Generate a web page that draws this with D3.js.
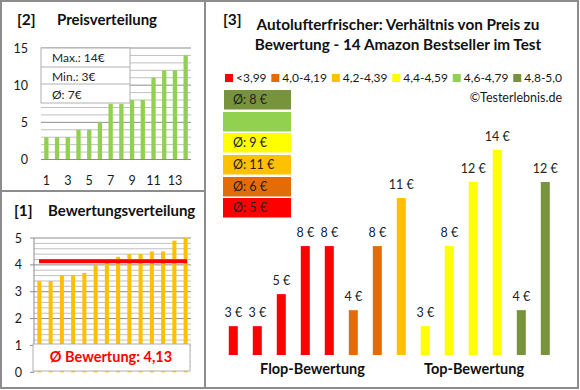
<!DOCTYPE html>
<html><head><meta charset="utf-8">
<script src="https://cdn.jsdelivr.net/npm/d3@7"></script>
<style>
html,body{margin:0;padding:0;background:#fff;}
svg{display:block;font-family:Lato,"Open Sans",sans-serif;}
</style></head>
<body>
<svg id="c" width="580" height="390"></svg>
<script>
// ---------- data ----------
const priceIdx = [1,2,3,4,5,6,7,8,9,10,11,12,13,14];
const prices = [3,3,3,4,4,5,7.5,7.5,8,8,11,12,12,14];
const priceTicks = [0,5,10,15];
const priceXTicks = [1,3,5,7,9,11,13];
const priceBox = ["Max.: 14€","Min.: 3€","Ø: 7€"];

const ratings = [3.4,3.4,3.6,3.6,3.7,4.0,4.1,4.3,4.4,4.4,4.5,4.5,4.9,5.0];
const ratingTicks = [0,1,2,3,4,5];
const ratingAvg = 4.13;
const ratingAvgLabel = "Ø Bewertung: 4,13";

const legendLabels = ["<3,99","4,0-4,19","4,2-4,39","4,4-4,59","4,6-4,79","4,8-5,0"];
const legendColors = ["#FF0000","#E36C09","#FFC000","#FFFF00","#92D050","#77933C"];
const groupAvgLabels = ["Ø: 5 €","Ø: 6 €","Ø: 11 €","Ø: 9 €","","Ø: 8 €"];
const barPrices = [3,3,5,8,8,4,8,11,3,8,12,14,4,12];
const barGroups = [0,0,0,0,0,1,1,2,3,3,3,3,5,5];
const barLabels = ["3 €","3 €","5 €","8 €","8 €","4 €","8 €","11 €","3 €","8 €","12 €","14 €","4 €","12 €"];
const sectionLabels = ["Flop-Bewertung","Top-Bewertung"];

const svg = d3.select("#c");
const txt = "#1a1a1a", gridMinor = "#c0c0c0", gridMajor = "#8c8c8c", frame = "#8c8c8c";

// ---------- frame ----------
svg.append("rect").attr("x",1).attr("y",1).attr("width",577).attr("height",387)
  .attr("fill","none").attr("stroke",frame).attr("stroke-width",2);
svg.append("line").attr("x1",205).attr("x2",205).attr("y1",1).attr("y2",388).attr("stroke",frame).attr("stroke-width",2);
svg.append("line").attr("x1",1).attr("x2",205).attr("y1",191).attr("y2",191).attr("stroke",frame).attr("stroke-width",2);

// ---------- panel 2: Preisverteilung ----------
const p2 = svg.append("g");
p2.append("text").attr("x",17).attr("y",25).attr("font-size",15.5).attr("font-weight","bold").attr("fill","#111").text("[2]");
p2.append("text").attr("x",57).attr("y",25).attr("font-size",15).attr("font-weight","bold").attr("fill","#111").text("Preisverteilung");
const x2 = d3.scaleBand().domain(priceIdx).range([41,191]).paddingInner(0.6).paddingOuter(0.3);
const y2 = d3.scaleLinear().domain([0,15]).range([159.5,48]);
p2.selectAll("line.g").data(d3.range(1,16)).join("line")
  .attr("x1",41).attr("x2",191).attr("y1",d=>y2(d)).attr("y2",d=>y2(d))
  .attr("stroke",d=>d%5===0?gridMajor:gridMinor).attr("stroke-width",1);
p2.selectAll("rect.b").data(prices).join("rect")
  .attr("x",(d,i)=>x2(priceIdx[i])).attr("width",x2.bandwidth())
  .attr("y",d=>y2(d)).attr("height",d=>y2(0)-y2(d)).attr("fill","#92D050");
p2.append("line").attr("x1",41).attr("x2",191).attr("y1",y2(0)).attr("y2",y2(0)).attr("stroke",gridMajor);
p2.selectAll("text.yt").data(priceTicks).join("text")
  .attr("x",28).attr("y",d=>y2(d)+4.5).attr("text-anchor","end").attr("font-size",12.5).attr("fill",txt).text(d=>d);
p2.selectAll("text.xt").data(priceXTicks).join("text")
  .attr("x",d=>x2(d)+x2.bandwidth()/2).attr("y",185).attr("text-anchor","middle").attr("font-size",12.5).attr("fill",txt).text(d=>d);
// info box
p2.append("rect").attr("x",41).attr("y",48).attr("width",89).attr("height",55).attr("fill","#fff").attr("stroke","#b0b0b0");
p2.selectAll("line.sep").data([67,84]).join("line").attr("x1",41).attr("x2",130).attr("y1",d=>d).attr("y2",d=>d).attr("stroke","#b0b0b0");
p2.selectAll("text.box").data(priceBox).join("text")
  .attr("x",52).attr("y",(d,i)=>62+i*18.5).attr("font-size",12).attr("fill","#222").text(d=>d);

// ---------- panel 1: Bewertungsverteilung ----------
const p1 = svg.append("g");
p1.append("text").attr("x",14).attr("y",216).attr("font-size",15.5).attr("font-weight","bold").attr("fill","#111").text("[1]");
p1.append("text").attr("x",48).attr("y",216).attr("font-size",15).attr("font-weight","bold").attr("fill","#111").text("Bewertungsverteilung");
const x1 = d3.scaleBand().domain(priceIdx).range([34,191]).paddingInner(0.64).paddingOuter(0.3);
const y1 = d3.scaleLinear().domain([0,5]).range([372.3,238]);
p1.selectAll("line.g").data(d3.range(1,26)).join("line")
  .attr("x1",34).attr("x2",191).attr("y1",d=>y1(d*0.2)).attr("y2",d=>y1(d*0.2))
  .attr("stroke",d=>d%5===0?gridMajor:gridMinor).attr("stroke-width",1);
p1.selectAll("rect.b").data(ratings).join("rect")
  .attr("x",(d,i)=>x1(priceIdx[i])).attr("width",x1.bandwidth())
  .attr("y",d=>y1(d)).attr("height",d=>y1(0)-y1(d)).attr("fill","#FFC000");
p1.append("line").attr("x1",34).attr("x2",34).attr("y1",y1(0)).attr("y2",y1(5)).attr("stroke",gridMajor);
p1.selectAll("line.tk").data(ratingTicks).join("line")
  .attr("x1",30).attr("x2",34).attr("y1",d=>y1(d)).attr("y2",d=>y1(d)).attr("stroke",gridMajor);
p1.selectAll("text.yt").data(ratingTicks).join("text")
  .attr("x",22).attr("y",d=>y1(d)+4.5).attr("text-anchor","end").attr("font-size",12.5).attr("fill",txt).text(d=>d);
p1.append("line").attr("x1",39).attr("x2",187).attr("y1",y1(ratingAvg)).attr("y2",y1(ratingAvg))
  .attr("stroke","#FF0000").attr("stroke-width",4);
p1.append("rect").attr("x",33).attr("y",344).attr("width",157).attr("height",27).attr("fill","#fff").attr("stroke","#b0b0b0");
p1.append("text").attr("x",111).attr("y",362).attr("text-anchor","middle").attr("font-size",14.5).attr("font-weight","bold")
  .attr("fill","#FF0000").text(ratingAvgLabel);

// ---------- panel 3 ----------
const p3 = svg.append("g");
p3.append("text").attr("x",223).attr("y",25).attr("font-size",15.5).attr("font-weight","bold").attr("fill","#111").text("[3]");
p3.append("text").attr("x",398).attr("y",30).attr("text-anchor","middle").attr("font-size",15.3).attr("font-weight","bold").attr("fill","#111")
  .text("Autolufterfrischer: Verhältnis von Preis zu");
p3.append("text").attr("x",398).attr("y",50).attr("text-anchor","middle").attr("font-size",15.3).attr("font-weight","bold").attr("fill","#111")
  .text("Bewertung - 14 Amazon Bestseller im Test");
// legend: sequential layout spanning 225..562
const lg = p3.selectAll("g.leg").data(legendLabels).join("g");
lg.append("rect").attr("x",0).attr("y",74).attr("width",8).attr("height",8).attr("fill",(d,i)=>legendColors[i]);
lg.append("text").attr("x",11).attr("y",82).attr("font-size",12).attr("fill",txt).text(d=>d);
const widths = [];
lg.select("text").each(function(){ widths.push(11 + this.getComputedTextLength()); });
const total = d3.sum(widths);
const gap = (562 - 225 - total) / (legendLabels.length - 1);
let cx = 225;
lg.attr("transform",(d,i)=>{ const t = `translate(${cx},0)`; cx += widths[i] + gap; return t; });
p3.append("text").attr("x",562).attr("y",102).attr("text-anchor","end").attr("font-size",12.5).attr("fill",txt).text("©Testerlebnis.de");
// stacked avg boxes (bottom = group 0)
const boxTop = [198,177,155,133,112,90];
p3.selectAll("rect.avg").data(groupAvgLabels).join("rect")
  .attr("x",(d,i)=>i===5?224:223).attr("y",(d,i)=>boxTop[i]).attr("width",(d,i)=>i===5?67:68).attr("height",19.5)
  .attr("fill",(d,i)=>legendColors[i]);
p3.selectAll("text.avg").data(groupAvgLabels).join("text")
  .attr("x",233).attr("y",(d,i)=>boxTop[i]+14).attr("font-size",12.5).attr("fill","#222").text(d=>d);
// bars
const x3 = d3.scaleBand().domain(d3.range(14)).range([221.3,557.3]).paddingInner(0.625).paddingOuter(0.3125);
const y3 = d3.scaleLinear().domain([1.2,14]).range([355,150]);
p3.selectAll("rect.bar").data(barPrices).join("rect")
  .attr("x",(d,i)=>x3(i)).attr("width",x3.bandwidth()).attr("y",d=>y3(d)).attr("height",d=>y3(1.2)-y3(d))
  .attr("fill",(d,i)=>legendColors[barGroups[i]]);
p3.selectAll("text.bl").data(barPrices).join("text")
  .attr("x",(d,i)=>x3(i)+x3.bandwidth()/2).attr("y",d=>y3(d)-9).attr("text-anchor","middle")
  .attr("font-size",12.5).attr("fill","#222").text((d,i)=>barLabels[i]);
p3.selectAll("text.sec").data(sectionLabels).join("text")
  .attr("x",(d,i)=>i===0?312.5:474).attr("y",374).attr("text-anchor","middle").attr("font-size",14.5).attr("font-weight","bold")
  .attr("fill","#111").text(d=>d);
</script>
</body></html>
